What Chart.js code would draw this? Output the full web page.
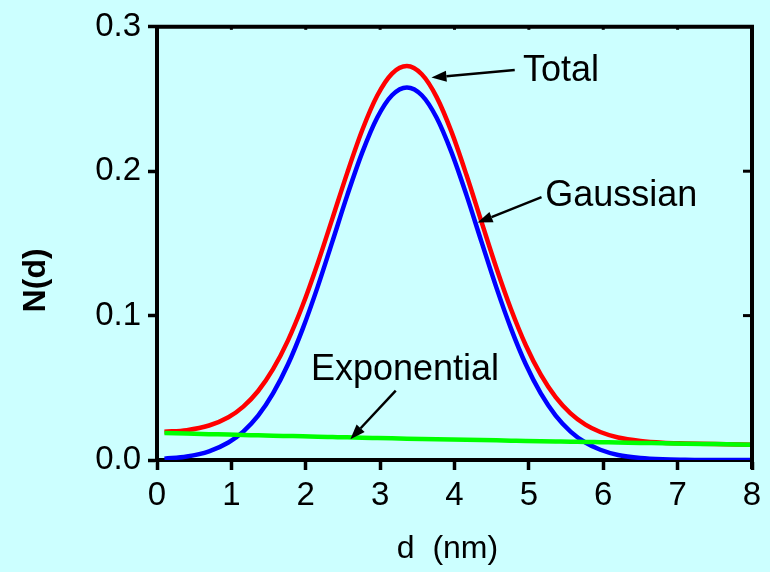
<!DOCTYPE html>
<html>
<head>
<meta charset="utf-8">
<script src="https://cdn.jsdelivr.net/npm/chart.js@4.4.1/dist/chart.umd.min.js"></script>
<style>
    html, body { margin: 0; padding: 0; background: #ccffff; }
    #chart { display: block; }
</style>
</head>
<body>
<canvas id="chart" width="770" height="572"></canvas>
<script>
// d (nm) sample points
const dValues = [0.1, 0.4, 0.7, 0.96, 1.16, 1.36, 1.56, 1.76, 1.96, 2.16, 2.36, 2.56, 2.76, 2.96, 3.16, 3.36,
    3.56, 3.76, 3.96, 4.16, 4.36, 4.56, 4.76, 4.96, 5.16, 5.36, 5.56, 5.76, 5.96, 6.2, 6.5, 6.8, 7.1, 7.5, 8.0];

const totalValues = [0.0196, 0.0207, 0.0239, 0.0296, 0.0370, 0.0478, 0.0629, 0.0827, 0.1073, 0.1361, 0.1675,
    0.1992, 0.2285, 0.2522, 0.2676, 0.2728, 0.2671, 0.2513, 0.2272, 0.1975, 0.1654, 0.1335, 0.1044, 0.0793,
    0.0591, 0.0435, 0.0323, 0.0245, 0.0194, 0.0156, 0.0132, 0.0120, 0.0115, 0.0110, 0.0106];

const gaussianValues = [0.0009, 0.0024, 0.0060, 0.0121, 0.0197, 0.0307, 0.0461, 0.0661, 0.0910, 0.1199, 0.1516,
    0.1836, 0.2130, 0.2370, 0.2526, 0.2580, 0.2526, 0.2370, 0.2130, 0.1836, 0.1516, 0.1199, 0.0910, 0.0661,
    0.0461, 0.0307, 0.0197, 0.0121, 0.0071, 0.0035, 0.0014, 0.0005, 0.0002, 0.0000, 0.0000];

const exponentialValues = [0.0187, 0.0183, 0.0179, 0.0176, 0.0173, 0.0171, 0.0168, 0.0166, 0.0164, 0.0161, 0.0159,
    0.0157, 0.0154, 0.0152, 0.0150, 0.0148, 0.0146, 0.0144, 0.0142, 0.0140, 0.0138, 0.0136, 0.0134, 0.0132,
    0.0130, 0.0128, 0.0126, 0.0125, 0.0123, 0.0121, 0.0118, 0.0116, 0.0113, 0.0110, 0.0106];

const xTicks = [0, 1, 2, 3, 4, 5, 6, 7, 8];
const yTicks = [0.0, 0.1, 0.2, 0.3];

// labels with arrows, in data units: text anchor (left, middle) and arrow tail -> tip
const labels = [
    { text: 'Total',       tx: 4.92, ty: 0.2695, from: [4.81, 0.2700], to: [3.69, 0.2649] },
    { text: 'Gaussian',    tx: 5.22, ty: 0.1830, from: [5.17, 0.1820], to: [4.31, 0.1644] },
    { text: 'Exponential', tx: 2.07, ty: 0.0620, from: [3.21, 0.0480], to: [2.60, 0.0144] },
];

const FONT = '"Liberation Sans", Arial, sans-serif';

function toPoints(values) {
    return dValues.map((d, i) => ({ x: d, y: values[i] }));
}

const framePlugin = {
    id: 'frame',
    afterDraw(chart) {
        const ctx = chart.ctx;
        const area = chart.chartArea;
        const x = chart.scales.x;
        const y = chart.scales.y;

        ctx.save();
        ctx.strokeStyle = '#000';
        ctx.lineCap = 'butt';

        // top and right axis lines
        ctx.lineWidth = 4;
        ctx.beginPath();
        ctx.moveTo(area.left - 2, area.top);
        ctx.lineTo(area.right, area.top);
        ctx.lineTo(area.right, area.bottom + 9);
        ctx.stroke();

        // little inward ticks on top and right
        ctx.lineWidth = 3;
        xTicks.forEach((t) => {
            if (t === 0 || t === 8) return;
            const px = x.getPixelForValue(t);
            ctx.beginPath();
            ctx.moveTo(px, area.top);
            ctx.lineTo(px, area.top + 3);
            ctx.stroke();
        });
        yTicks.forEach((t) => {
            if (t === 0 || t === 0.3) return;
            const py = y.getPixelForValue(t);
            ctx.beginPath();
            ctx.moveTo(area.right, py);
            ctx.lineTo(area.right - 9, py);
            ctx.stroke();
        });

        // axis titles
        ctx.fillStyle = '#000';
        ctx.font = '32px ' + FONT;
        ctx.textAlign = 'center';
        ctx.textBaseline = 'middle';
        ctx.fillText('d  (nm)', (area.left + area.right) / 2 - 7, 549);

        ctx.save();
        ctx.translate(36, (area.top + area.bottom) / 2 + 37);
        ctx.rotate(-Math.PI / 2);
        ctx.font = 'bold 32px ' + FONT;
        ctx.fillText('N(d)', 0, 0);
        ctx.restore();

        // annotations with arrows
        ctx.font = '36px ' + FONT;
        ctx.textAlign = 'left';
        labels.forEach((l) => {
            ctx.fillText(l.text, x.getPixelForValue(l.tx), y.getPixelForValue(l.ty));

            const x0 = x.getPixelForValue(l.from[0]);
            const y0 = y.getPixelForValue(l.from[1]);
            const x1 = x.getPixelForValue(l.to[0]);
            const y1 = y.getPixelForValue(l.to[1]);
            const ang = Math.atan2(y1 - y0, x1 - x0);
            const head = 15;
            const hx = x1 - head * Math.cos(ang);
            const hy = y1 - head * Math.sin(ang);

            ctx.lineWidth = 2.5;
            ctx.beginPath();
            ctx.moveTo(x0, y0);
            ctx.lineTo(hx, hy);
            ctx.stroke();

            ctx.beginPath();
            ctx.moveTo(x1, y1);
            ctx.lineTo(hx + 5.5 * Math.sin(ang), hy - 5.5 * Math.cos(ang));
            ctx.lineTo(hx - 5.5 * Math.sin(ang), hy + 5.5 * Math.cos(ang));
            ctx.closePath();
            ctx.fill();
        });

        ctx.restore();
    }
};

new Chart(document.getElementById('chart').getContext('2d'), {
    type: 'line',
    data: {
        datasets: [
            {
                label: 'Exponential',
                data: toPoints(exponentialValues),
                borderColor: '#00ff00',
                borderWidth: 4.5,
                pointRadius: 0,
                cubicInterpolationMode: 'monotone',
                fill: false,
            },
            {
                label: 'Gaussian',
                data: toPoints(gaussianValues),
                borderColor: '#0000ff',
                borderWidth: 4.5,
                pointRadius: 0,
                cubicInterpolationMode: 'monotone',
                fill: false,
            },
            {
                label: 'Total',
                data: toPoints(totalValues),
                borderColor: '#ff0000',
                borderWidth: 4.5,
                pointRadius: 0,
                cubicInterpolationMode: 'monotone',
                fill: false,
            },
        ],
    },
    options: {
        responsive: false,
        animation: false,
        layout: {
            padding: { top: 22, right: 18, left: 0, bottom: 0 },
        },
        plugins: {
            legend: { display: false },
            tooltip: { enabled: false },
        },
        scales: {
            x: {
                type: 'linear',
                min: 0,
                max: 8,
                afterFit: (scale) => { scale.height = 112; },
                afterBuildTicks: (scale) => { scale.ticks = xTicks.map((v) => ({ value: v })); },
                ticks: {
                    color: '#000',
                    font: { family: FONT, size: 33 },
                    padding: 6,
                    maxRotation: 0,
                    callback: (v) => String(v),
                },
                grid: {
                    drawOnChartArea: false,
                    drawTicks: true,
                    tickLength: 10,
                    tickWidth: 3.5,
                    tickColor: '#000',
                },
                border: { display: true, color: '#000', width: 4 },
            },
            y: {
                min: 0,
                max: 0.3,
                afterFit: (scale) => { scale.width = 157; },
                afterBuildTicks: (scale) => { scale.ticks = yTicks.map((v) => ({ value: v })); },
                ticks: {
                    color: '#000',
                    font: { family: FONT, size: 33 },
                    padding: 7,
                    callback: (v) => v.toFixed(1),
                },
                grid: {
                    drawOnChartArea: false,
                    drawTicks: true,
                    tickLength: 9,
                    tickWidth: 3.5,
                    tickColor: '#000',
                },
                border: { display: true, color: '#000', width: 4 },
            },
        },
    },
    plugins: [framePlugin],
});
</script>
</body>
</html>
